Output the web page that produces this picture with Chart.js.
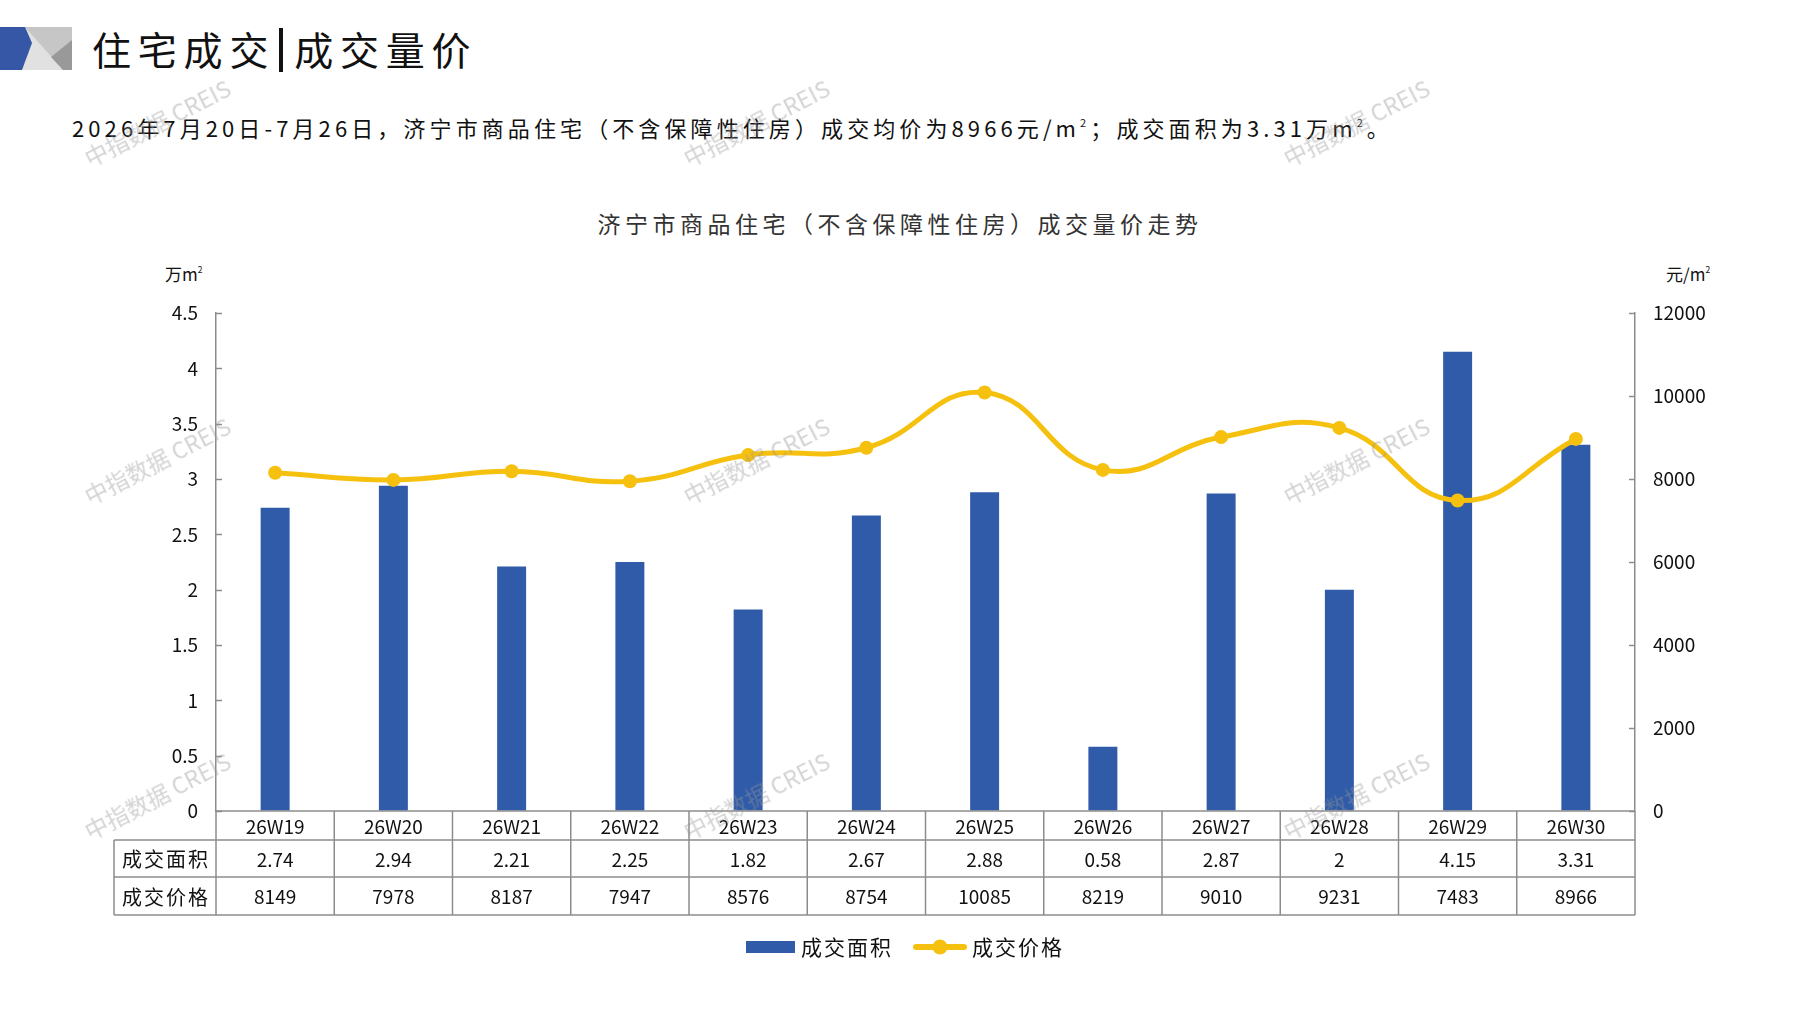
<!DOCTYPE html>
<html lang="zh-CN">
<head>
<meta charset="utf-8">
<title>住宅成交|成交量价</title>
<script src="https://cdn.jsdelivr.net/npm/chart.js@4.4.1/dist/chart.umd.min.js"></script>
<style>
    html, body { margin: 0; padding: 0; background: #fff; overflow: hidden; }
    body { width: 1797px; height: 1010px; position: relative; font-family: "Noto Sans CJK SC", "Noto Sans", sans-serif; color: #111; }
    #chart-wrap { position: absolute; left: 0; top: 0; width: 1797px; height: 1010px; }
    .abs { position: absolute; white-space: nowrap; }
    #logo { position: absolute; left: 0; top: 27px; }
    #page-title { left: 92px; top: 23px; font-size: 39px; line-height: 50px; letter-spacing: 6.8px; }
    #page-title .bar { display: inline-block; width: 4px; height: 44px; background: #111; vertical-align: -7px; margin: 0 11px 0 4px; }
    #summary { left: 72px; top: 108px; font-size: 22px; line-height: 28px; letter-spacing: 4.1px; }
    #chart-title { left: 0; width: 1797px; text-align: center; top: 209px; font-size: 23px; line-height: 28px; letter-spacing: 4.5px; color: #333; text-indent: 3px; }
    .unit { top: 258px; font-size: 17px; line-height: 22px; }
    sup { font-size: 0.5em; vertical-align: 0.9em; }
    .wm { position: absolute; font-size: 23px; color: rgba(150,150,150,0.42); transform: translate(-50%, -50%) rotate(-27deg); white-space: nowrap; pointer-events: none; font-family: "Noto Sans CJK SC", "Liberation Sans", sans-serif; }
</style>
</head>
<body>
<svg id="logo" width="74" height="44" viewBox="0 27 74 44">
    <rect x="22" y="27" width="50" height="43" fill="#c6c6c6"/>
    <polygon points="25,27 63,70 22,70" fill="#e1e1e1"/>
    <polygon points="72,40 51,57 63,70 72,70" fill="#999999"/>
    <polygon points="0,27 25,27 32,43 22,70 0,70" fill="#3557a6"/>
</svg>
<div id="page-title" class="abs">住宅成交<span class="bar"></span>成交量价</div>
<div id="summary" class="abs"></div>
<div id="chart-title" class="abs">济宁市商品住宅（不含保障性住房）成交量价走势</div>
<div class="abs unit" style="left:165px;">万m<sup>2</sup></div>
<div class="abs unit" style="left:1666px;">元/m<sup>2</sup></div>
<div id="chart-wrap"><canvas id="chart-main" width="1797" height="1010"></canvas></div>
<div id="watermarks"></div>

<script>
// weekly data
const weeks = ['26W19', '26W20', '26W21', '26W22', '26W23', '26W24', '26W25', '26W26', '26W27', '26W28', '26W29', '26W30'];
const areaValues = [2.74, 2.94, 2.21, 2.25, 1.82, 2.67, 2.88, 0.58, 2.87, 2, 4.15, 3.31];   // 万m²
const priceValues = [8149, 7978, 8187, 7947, 8576, 8754, 10085, 8219, 9010, 9231, 7483, 8966]; // 元/m²
const areaTicks = [0, 0.5, 1, 1.5, 2, 2.5, 3, 3.5, 4, 4.5];
const priceTicks = [0, 2000, 4000, 6000, 8000, 10000, 12000];
const seriesNames = ['成交面积', '成交价格'];

const colors = {
    bar: '#2f5ba8',
    line: '#f6c00f',
    axis: '#8c8c8c',
    text: '#111111'
};

// table under the chart: row heights and left edge of the header column
const TABLE_LEFT = 114;
const ROW_H = [29, 37, 38];

document.addEventListener('DOMContentLoaded', () => {
    fillSummary();
    addWatermarks();
    initChart();
});

function fillSummary() {
    const last = weeks.length - 1;
    document.getElementById('summary').innerHTML =
        `2026年7月20日-7月26日，济宁市商品住宅（不含保障性住房）成交均价为${priceValues[last]}元/m<sup>2</sup>；成交面积为${areaValues[last]}万m<sup>2</sup>。`;
}

function addWatermarks() {
    const box = document.getElementById('watermarks');
    [157, 756, 1356].forEach(x => {
        [122, 460, 795].forEach(y => {
            const el = document.createElement('div');
            el.className = 'wm';
            el.style.left = x + 'px';
            el.style.top = y + 'px';
            el.textContent = '中指数据 CREIS';
            box.appendChild(el);
        });
    });
}

// short tick marks pointing into the plot area
const innerTicks = {
    id: 'innerTicks',
    afterDatasetsDraw(chart) {
        const { ctx, chartArea } = chart;
        ctx.save();
        ctx.strokeStyle = colors.axis;
        ctx.lineWidth = 1.5;
        ['yArea', 'yPrice'].forEach(id => {
            const scale = chart.scales[id];
            scale.ticks.forEach(t => {
                const yy = Math.round(scale.getPixelForValue(t.value)) + 0.5;
                ctx.beginPath();
                if (id === 'yArea') {
                    ctx.moveTo(chartArea.left, yy);
                    ctx.lineTo(chartArea.left + 6, yy);
                } else {
                    ctx.moveTo(chartArea.right - 6, yy);
                    ctx.lineTo(chartArea.right, yy);
                }
                ctx.stroke();
            });
        });
        ctx.restore();
    }
};

// data table (categories / area / price) drawn on the category scale
const dataTable = {
    id: 'dataTable',
    afterDraw(chart) {
        const { ctx, chartArea } = chart;
        const x = chart.scales.x;
        const step = x.getPixelForValue(1) - x.getPixelForValue(0);
        const left = chartArea.left, right = chartArea.right;
        const y0 = chartArea.bottom;
        const y1 = y0 + ROW_H[0];
        const y2 = y1 + ROW_H[1];
        const y3 = y2 + ROW_H[2];

        ctx.save();
        ctx.strokeStyle = colors.axis;
        ctx.lineWidth = 1.5;
        const seg = (ax, ay, bx, by) => {
            ctx.beginPath();
            ctx.moveTo(ax, ay);
            ctx.lineTo(bx, by);
            ctx.stroke();
        };
        seg(left, y0, right, y0);
        seg(TABLE_LEFT, y1, right, y1);
        seg(TABLE_LEFT, y2, right, y2);
        seg(TABLE_LEFT, y3, right, y3);
        seg(TABLE_LEFT, y1, TABLE_LEFT, y3);
        for (let i = 0; i <= weeks.length; i++) {
            const xx = x.getPixelForValue(0) - step / 2 + i * step;
            seg(xx, y0, xx, y3);
        }

        ctx.fillStyle = colors.text;
        ctx.textAlign = 'center';
        ctx.textBaseline = 'middle';
        ctx.font = '19px "Noto Sans CJK SC", sans-serif';
        weeks.forEach((w, i) => {
            const cx = x.getPixelForValue(i);
            ctx.fillText(w, cx, (y0 + y1) / 2 + 1);
            ctx.fillText(String(areaValues[i]), cx, (y1 + y2) / 2 + 1);
            ctx.fillText(String(priceValues[i]), cx, (y2 + y3) / 2 + 1);
        });

        ctx.font = '20px "Noto Sans CJK SC", sans-serif';
        ctx.letterSpacing = '2px';
        const hx = (TABLE_LEFT + left) / 2 + 1;
        ctx.fillText(seriesNames[0], hx, (y1 + y2) / 2 + 1);
        ctx.fillText(seriesNames[1], hx, (y2 + y3) / 2 + 1);
        ctx.restore();
    }
};

// bottom legend: bar swatch and line-with-dot swatch
const bottomLegend = {
    id: 'bottomLegend',
    afterDraw(chart) {
        const { ctx } = chart;
        const cy = 947;
        ctx.save();
        ctx.font = '21px "Noto Sans CJK SC", sans-serif';
        ctx.letterSpacing = '2px';
        ctx.textBaseline = 'middle';
        ctx.textAlign = 'left';

        ctx.fillStyle = colors.bar;
        ctx.fillRect(746, cy - 6, 49, 12);
        ctx.fillStyle = colors.text;
        ctx.fillText(seriesNames[0], 801, cy);

        ctx.strokeStyle = colors.line;
        ctx.lineWidth = 6;
        ctx.lineCap = 'round';
        ctx.beginPath();
        ctx.moveTo(916, cy);
        ctx.lineTo(964, cy);
        ctx.stroke();
        ctx.fillStyle = colors.line;
        ctx.beginPath();
        ctx.arc(940, cy, 7.5, 0, Math.PI * 2);
        ctx.fill();
        ctx.fillStyle = colors.text;
        ctx.fillText(seriesNames[1], 972, cy);
        ctx.restore();
    }
};

function initChart() {
    Chart.defaults.font.family = '"Noto Sans CJK SC", "Noto Sans", sans-serif';
    Chart.defaults.color = colors.text;

    new Chart(document.getElementById('chart-main'), {
        type: 'bar',
        data: {
            labels: weeks,
            datasets: [
                {
                    type: 'line',
                    label: seriesNames[1],
                    data: priceValues,
                    yAxisID: 'yPrice',
                    borderColor: colors.line,
                    backgroundColor: colors.line,
                    borderWidth: 5,
                    pointRadius: 7,
                    pointBackgroundColor: colors.line,
                    pointBorderWidth: 0,
                    tension: 0.45,
                    order: 1
                },
                {
                    type: 'bar',
                    label: seriesNames[0],
                    data: areaValues,
                    yAxisID: 'yArea',
                    backgroundColor: colors.bar,
                    barPercentage: 0.245,
                    categoryPercentage: 1,
                    order: 2
                }
            ]
        },
        options: {
            responsive: false,
            animation: false,
            devicePixelRatio: 1,
            layout: { padding: { left: 0, right: 0, top: 313, bottom: 199 } },
            plugins: {
                legend: { display: false },
                title: { display: false },
                tooltip: { enabled: false }
            },
            scales: {
                x: {
                    display: false,
                    offset: true,
                    grid: { display: false }
                },
                yArea: {
                    position: 'left',
                    min: 0,
                    max: 4.5,
                    afterBuildTicks: (scale) => { scale.ticks = areaTicks.map(v => ({ value: v })); },
                    afterFit: (scale) => { scale.width = 216; },
                    grid: { drawOnChartArea: false, drawTicks: false },
                    border: { display: true, color: colors.axis, width: 1.5 },
                    ticks: {
                        padding: 18,
                        font: { size: 19 },
                        callback: (v) => String(v)
                    }
                },
                yPrice: {
                    position: 'right',
                    min: 0,
                    max: 12000,
                    afterBuildTicks: (scale) => { scale.ticks = priceTicks.map(v => ({ value: v })); },
                    afterFit: (scale) => { scale.width = 162; },
                    grid: { drawOnChartArea: false, drawTicks: false },
                    border: { display: true, color: colors.axis, width: 1.5 },
                    ticks: {
                        padding: 18,
                        font: { size: 19 },
                        callback: (v) => String(v)
                    }
                }
            }
        },
        plugins: [innerTicks, dataTable, bottomLegend]
    });
}
</script>
</body>
</html>
